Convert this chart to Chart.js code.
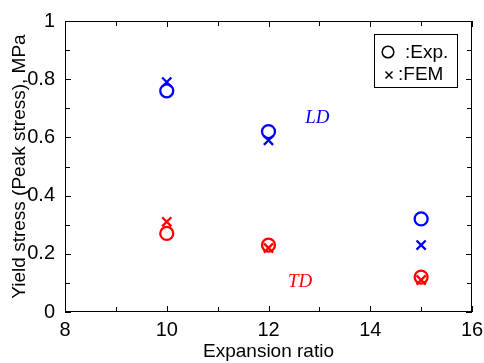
<!DOCTYPE html>
<html>
<head>
<meta charset="utf-8">
<script src="https://cdn.jsdelivr.net/npm/chart.js@4"></script>
<style>
  html, body { margin: 0; padding: 0; background: #fff; }
  #wrap { width: 484px; height: 363px; }
</style>
</head>
<body>
<div id="wrap"><canvas id="chart" width="484" height="363"></canvas></div>
<script>
// --- Data ---
const ratios = [10, 12, 15];
const ldExp = [0.76, 0.62, 0.32];
const ldFem = [0.79, 0.59, 0.23];
const tdExp = [0.27, 0.23, 0.12];
const tdFem = [0.31, 0.22, 0.11];

const xTicks = [8, 10, 12, 14, 16];
const yTicks = [0, 0.2, 0.4, 0.6, 0.8, 1];

const blue = '#0000ff';
const red = '#ff0000';
const font = 'Liberation Sans, Arial, sans-serif';

function pts(vals) {
  return ratios.map((r, i) => ({ x: r, y: vals[i] }));
}

function makeSet(label, vals, color, style) {
  return {
    label,
    data: pts(vals),
    pointStyle: style,
    pointRadius: 6.5,
    borderColor: color,
    backgroundColor: 'rgba(0,0,0,0)',
    pointBorderWidth: 2.3,
    showLine: false
  };
}

// --- inward ticks, frame, text labels and legend box ---
const decorations = {
  id: 'decorations',
  afterDraw(chart) {
    const ctx = chart.ctx;
    const { left, right, top, bottom } = chart.chartArea;
    const xs = chart.scales.x, ys = chart.scales.y;
    ctx.save();
    ctx.strokeStyle = '#000';
    ctx.lineWidth = 1;
    ctx.strokeRect(left + 0.5, top + 0.5, right - left - 1, bottom - top - 1);

    for (let v = 8; v <= 16; v++) {
      const px = Math.round(xs.getPixelForValue(v)) + 0.5;
      const len = v % 2 === 0 ? 6 : 5;
      ctx.beginPath();
      ctx.moveTo(px, bottom); ctx.lineTo(px, bottom - len);
      ctx.moveTo(px, top); ctx.lineTo(px, top + len);
      ctx.stroke();
    }
    for (let i = 0; i <= 10; i++) {
      const py = Math.round(ys.getPixelForValue(i / 10)) + 0.5;
      const len = i % 2 === 0 ? 6 : 5;
      ctx.beginPath();
      ctx.moveTo(left, py); ctx.lineTo(left + len, py);
      ctx.moveTo(right, py); ctx.lineTo(right - len, py);
      ctx.stroke();
    }

    // series labels
    ctx.font = 'italic 19px "Liberation Serif", "Times New Roman", serif';
    ctx.textAlign = 'center';
    ctx.textBaseline = 'middle';
    ctx.fillStyle = blue;
    ctx.fillText('LD', xs.getPixelForValue(12.96), ys.getPixelForValue(0.665));
    ctx.fillStyle = red;
    ctx.fillText('TD', xs.getPixelForValue(12.62), ys.getPixelForValue(0.104));

    // legend box
    const bx = 374.5, by = 34.5, bw = 83, bh = 53;
    ctx.fillStyle = '#fff';
    ctx.fillRect(bx, by, bw, bh);
    ctx.strokeStyle = '#000';
    ctx.strokeRect(bx, by, bw, bh);
    ctx.lineWidth = 1.5;
    ctx.beginPath();
    ctx.arc(388, 52, 5.8, 0, Math.PI * 2);
    ctx.stroke();
    ctx.beginPath();
    ctx.moveTo(385.5, 71.5); ctx.lineTo(392.5, 78.5);
    ctx.moveTo(392.5, 71.5); ctx.lineTo(385.5, 78.5);
    ctx.stroke();
    ctx.fillStyle = '#000';
    ctx.font = '19px ' + font;
    ctx.textAlign = 'left';
    ctx.fillText(':Exp.', 405, 53);
    ctx.fillText(':FEM', 398, 75);
    ctx.restore();
  }
};

new Chart(document.getElementById('chart'), {
  type: 'scatter',
  data: {
    datasets: [
      makeSet('LD Exp.', ldExp, blue, 'circle'),
      makeSet('LD FEM', ldFem, blue, 'crossRot'),
      makeSet('TD Exp.', tdExp, red, 'circle'),
      makeSet('TD FEM', tdFem, red, 'crossRot')
    ]
  },
  options: {
    responsive: false,
    animation: false,
    layout: { padding: { left: 0, top: 21, right: 12, bottom: 0 } },
    plugins: {
      legend: { display: false },
      tooltip: { enabled: false }
    },
    scales: {
      x: {
        type: 'linear',
        min: 8, max: 16,
        afterBuildTicks: s => { s.ticks = xTicks.map(v => ({ value: v })); },
        afterFit: s => { s.height = 51; },
        grid: { display: false },
        border: { display: false },
        ticks: { color: '#000', font: { family: font, size: 20 }, padding: -2, maxRotation: 0 },
        title: { display: true, text: 'Expansion ratio', color: '#000', font: { family: font, size: 19 }, padding: { top: 0, bottom: 0 } }
      },
      y: {
        type: 'linear',
        min: 0, max: 1,
        afterBuildTicks: s => { s.ticks = yTicks.map(v => ({ value: v })); },
        afterFit: s => { s.width = 65; },
        grid: { display: false },
        border: { display: false },
        ticks: { color: '#000', font: { family: font, size: 20 }, padding: 2, callback: v => String(v) },
        title: { display: true, text: 'Yield stress (Peak stress), MPa', color: '#000', font: { family: font, size: 19 }, padding: { top: 8, bottom: 0 } }
      }
    }
  },
  plugins: [decorations]
});
</script>
</body>
</html>
